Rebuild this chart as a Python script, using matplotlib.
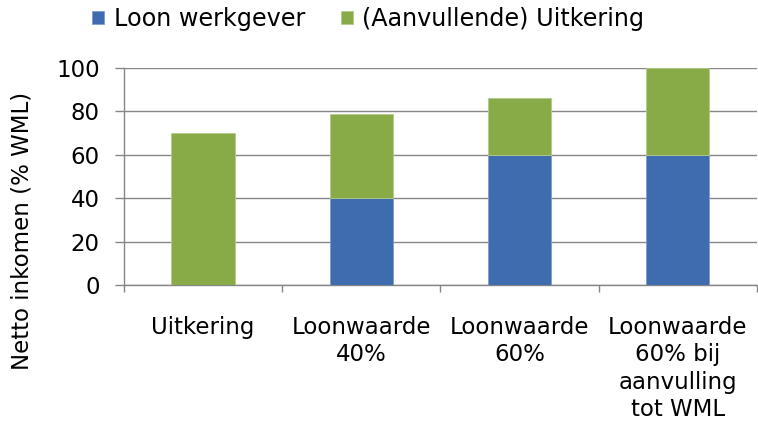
import numpy as np
import matplotlib
matplotlib.use('Agg')
import matplotlib.pyplot as plt

categories = ['Uitkering', 'Loonwaarde\n40%', 'Loonwaarde\n60%',
              'Loonwaarde\n60% bij\naanvulling\ntot WML']
loon = [0, 40, 60, 60]
uitkering = [70, 39, 26, 40]
series_names = ['Loon werkgever', '(Aanvullende) Uitkering']

blue = '#3E6CAF'
green = '#88AB48'
grey = '#868686'
fs = 16.5

fig = plt.figure(figsize=(7.58, 4.23), dpi=100)
ax = fig.add_axes([0.1636, 0.3262, 0.835, 0.513])

x = np.arange(len(categories))
ax.bar(x, loon, width=0.4, color=blue, edgecolor='#7F9CCB', linewidth=0.6,
       label=series_names[0], zorder=3)
ax.bar(x, uitkering, width=0.4, bottom=loon, color=green, edgecolor='#B3CB8A',
       linewidth=0.6, label=series_names[1], zorder=3)

ax.set_xlim(-0.5, len(categories) - 0.5)
ax.set_ylim(0, 100)
ax.set_yticks(np.arange(0, 101, 20))
ax.yaxis.grid(True, color=grey, linewidth=1.0, zorder=0)
ax.tick_params(axis='y', length=6.5, width=1.0, color=grey, pad=11, labelsize=fs)

ax.set_xticks(x)
ax.set_xticklabels(categories, fontsize=fs, linespacing=1.25, va='top')
ax.set_xticks(np.arange(-0.5, len(categories)), minor=True)
ax.tick_params(axis='x', which='major', length=0, pad=22)
ax.tick_params(axis='x', which='minor', length=5, width=1.0, color=grey)

for s in ['top', 'right']:
    ax.spines[s].set_visible(False)
for s in ['left', 'bottom']:
    ax.spines[s].set_color(grey)
    ax.spines[s].set_linewidth(1.0)

fig.text(22 / 758, 0.454, 'Netto inkomen (% WML)', rotation=90,
         ha='center', va='center', fontsize=fs)

fig.legend(loc='center', bbox_to_anchor=(0.486, 0.955), ncol=2, frameon=False,
           fontsize=17.2, handlelength=0.5, handleheight=0.5, handletextpad=0.4,
           columnspacing=1.5, borderaxespad=0)

fig.savefig('out.png', dpi=100)
